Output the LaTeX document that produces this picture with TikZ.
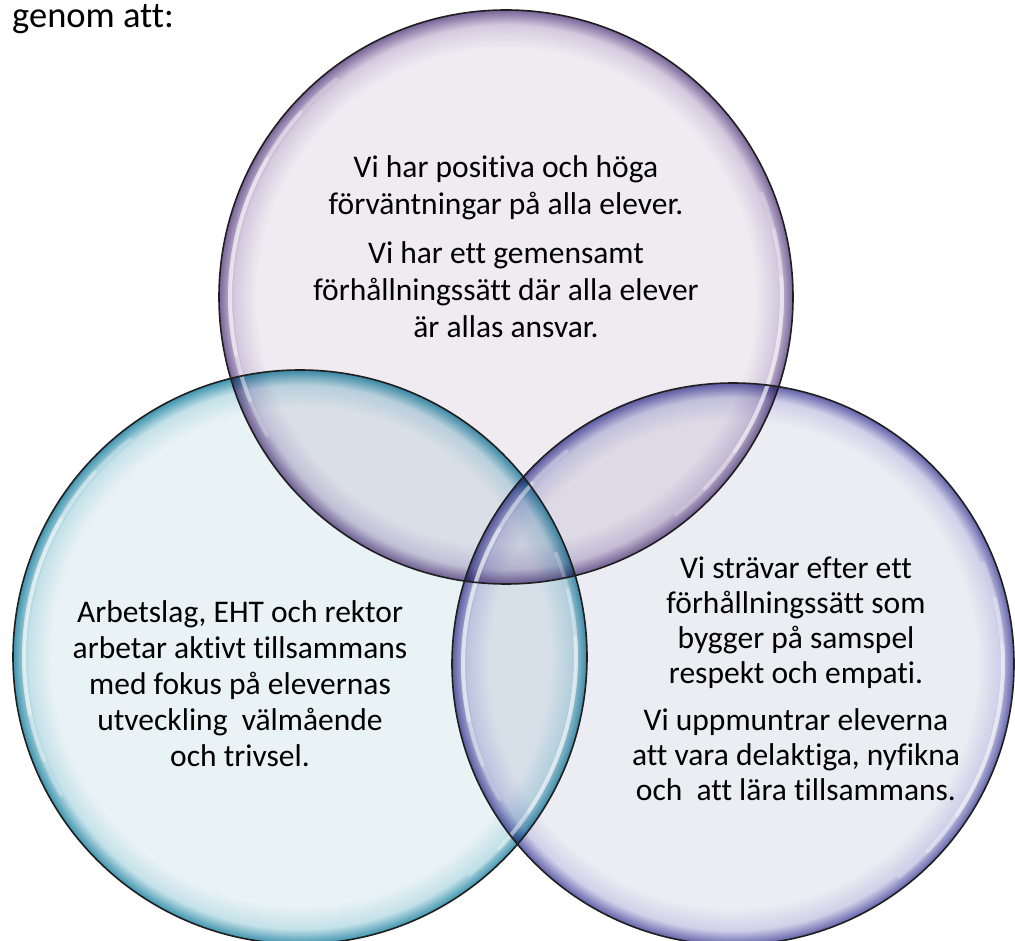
\documentclass[tikz,border=0pt]{standalone}
\usepackage{fontspec}
\setmainfont[Ligatures={NoCommon}]{Carlito}
\definecolor{topin}{RGB}{239,235,241}
\definecolor{topmid}{RGB}{212,202,223}
\definecolor{toprim}{RGB}{120,100,152}
\definecolor{leftin}{RGB}{233,242,245}
\definecolor{leftmid}{RGB}{196,225,233}
\definecolor{leftrim}{RGB}{62,148,174}
\definecolor{rightin}{RGB}{236,236,243}
\definecolor{rightmid}{RGB}{208,208,233}
\definecolor{rightrim}{RGB}{98,98,170}
\pgfdeclareradialshading{topshade}{\pgfpointorigin}{color(0bp)=(topin); color(21.7bp)=(topin); color(23.7bp)=(topmid); color(25bp)=(toprim); color(50bp)=(toprim)}
\pgfdeclareradialshading{leftshade}{\pgfpointorigin}{color(0bp)=(leftin); color(21.7bp)=(leftin); color(23.7bp)=(leftmid); color(25bp)=(leftrim); color(50bp)=(leftrim)}
\pgfdeclareradialshading{rightshade}{\pgfpointorigin}{color(0bp)=(rightin); color(21.7bp)=(rightin); color(23.7bp)=(rightmid); color(25bp)=(rightrim); color(50bp)=(rightrim)}
\newcommand\hlarcs[3]{%
  \foreach \sa/\ea/\op in {150/232/0.25,158/222/0.3,168/210/0.35,-22/52/0.25,-14/44/0.3,-4/34/0.35}{%
    \draw[white, line width=4pt, draw opacity=\op, line cap=round]
      ([shift={(\sa:#3-11)}]#1,#2) arc[start angle=\sa, end angle=\ea, radius=#3-11];
  }%
}
\begin{document}
\begin{tikzpicture}[x=1pt,y=-1pt,
  rimline/.style={draw=black!88, line width=1.6pt},
  toptext/.style={anchor=base, inner sep=0pt, font=\fontsize{31.5}{37}\selectfont},
  lefttext/.style={anchor=base, inner sep=0pt, font=\fontsize{31.5}{36}\selectfont},
  righttext/.style={anchor=base, inner sep=0pt, font=\fontsize{31.5}{35}\selectfont}]
\fill[white] (0,0) rectangle (1015,941);
\useasboundingbox (0,0) rectangle (1015,941);
\begin{scope}[blend mode=multiply]
  \shade[shading=topshade] (506,297) circle[radius=287];
  \shade[shading=leftshade] (300,657) circle[radius=287];
  \shade[shading=rightshade] (733,664) circle[radius=281];
\end{scope}
\hlarcs{506}{297}{287}
\hlarcs{300}{657}{287}
\hlarcs{733}{664}{281}
\draw[rimline] (506,297) circle[radius=287];
\draw[rimline] (300,657) circle[radius=287];
\draw[rimline] (733,664) circle[radius=281];
\node[anchor=base west, inner sep=0pt, font=\fontsize{36.5}{44}\selectfont] (title) at (12,28) {genom att:};
\node[toptext] (ttop) at (506,178) {\begin{tabular}[t]{@{}c@{}}Vi har positiva och höga\\ förväntningar på alla elever.\\[12pt] Vi har ett gemensamt\\ förhållningssätt där alla elever\\ är allas ansvar.\end{tabular}};
\node[lefttext] (tleft) at (240,622) {\begin{tabular}[t]{@{}c@{}}Arbetslag, EHT och rektor\\ arbetar aktivt tillsammans\\ med fokus på elevernas\\ utveckling\ \ välmående\\ och trivsel.\end{tabular}};
\node[righttext] (tright) at (796,578) {\begin{tabular}[t]{@{}c@{}}Vi strävar efter ett\\ förhållningssätt som\\ bygger på samspel\\ respekt och empati.\\[12pt] Vi uppmuntrar eleverna\\ att vara delaktiga, nyfikna\\ och\ \ att lära tillsammans.\end{tabular}};
\end{tikzpicture}
\end{document}
